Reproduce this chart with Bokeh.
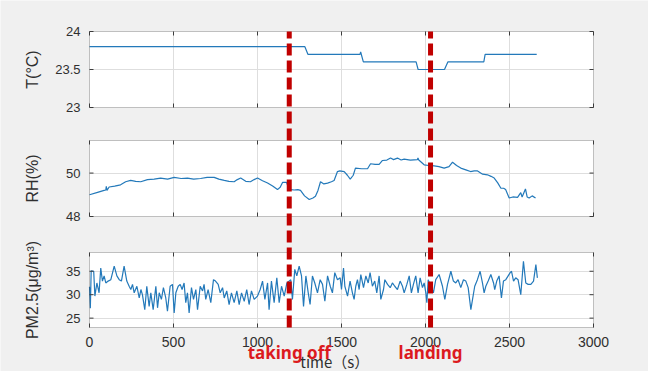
from math import pi
from bokeh.plotting import figure
from bokeh.models import Range1d, FixedTicker, Grid, BoxAnnotation
from bokeh.core.properties import value
from bokeh.embed import file_html
from bokeh.resources import INLINE

# ---------------- data ----------------
t_time = [0, 1282, 1300, 1610, 1614, 1630, 1944, 1956, 2113, 2133, 2347, 2355, 2662]
t_val = [23.8, 23.8, 23.7, 23.7, 23.73, 23.6, 23.6, 23.5, 23.5, 23.6, 23.6, 23.7, 23.7]

rh_time = [0, 48, 87, 97, 100, 104, 117, 150, 185, 215, 245, 275, 305, 345, 385, 423, 465, 504,
           545, 583, 620, 661, 700, 742, 770, 802, 830, 861, 880, 900, 930, 958, 980, 1000, 1030,
           1060, 1090, 1119, 1135, 1149, 1173, 1185, 1200, 1218, 1240, 1256, 1280, 1308, 1330,
           1345, 1360, 1375, 1395, 1417, 1440, 1456, 1476, 1490, 1516, 1535, 1552, 1570, 1583,
           1620, 1655, 1673, 1700, 1724, 1744, 1770, 1792, 1810, 1833, 1855, 1873, 1910, 1952,
           1955, 1960, 1992, 2020, 2052, 2080, 2111, 2140, 2161, 2185, 2210, 2240, 2268, 2290,
           2310, 2340, 2369, 2390, 2409, 2430, 2448, 2465, 2477, 2490, 2498, 2520, 2548, 2567,
           2575, 2595, 2605, 2617, 2635, 2655]
rh_val = [49.0, 49.11, 49.2, 49.22, 49.39, 49.2, 49.36, 49.4, 49.46, 49.6, 49.66, 49.62, 49.6,
          49.7, 49.72, 49.77, 49.72, 49.8, 49.75, 49.77, 49.72, 49.75, 49.8, 49.8, 49.72, 49.66,
          49.62, 49.6, 49.7, 49.77, 49.62, 49.6, 49.7, 49.77, 49.65, 49.54, 49.4, 49.24, 49.35,
          49.57, 49.57, 49.3, 49.24, 49.22, 49.24, 49.2, 48.95, 48.78, 48.85, 48.93, 49.2, 49.6,
          49.5, 49.54, 49.6, 49.66, 50.07, 50.1, 50.07, 49.9, 49.72, 49.9, 50.23, 50.2, 50.2,
          50.43, 50.4, 50.4, 50.58, 50.6, 50.69, 50.62, 50.69, 50.6, 50.64, 50.6, 50.62, 50.7,
          50.6, 50.38, 50.35, 50.33, 50.3, 50.23, 50.3, 50.5, 50.35, 50.23, 50.15, 50.07, 50.1,
          50.1, 49.95, 49.92, 49.85, 49.77, 49.55, 49.31, 49.3, 49.24, 49.0, 48.85, 48.9, 48.88,
          49.1, 48.9, 49.27, 48.9, 48.85, 48.95, 48.85]

pm_time = [0, 5, 10, 25, 32, 44, 57, 67, 77, 87, 97, 111, 127, 147, 163, 177, 190, 206, 222, 236,
           246, 256, 266, 282, 296, 306, 315, 329, 341, 355, 365, 379, 395, 405, 415, 428, 440,
           454, 464, 480, 494, 504, 514, 528, 540, 551, 563, 573, 583, 593, 607, 619, 633, 643,
           659, 673, 682, 692, 706, 722, 738, 750, 766, 778, 792, 802, 817, 831, 845, 861, 877,
           891, 905, 921, 936, 950, 964, 980, 1000, 1016, 1030, 1044, 1060, 1069, 1083, 1099,
           1115, 1129, 1143, 1159, 1175, 1188, 1198, 1208, 1222, 1234, 1248, 1262, 1274, 1288,
           1302, 1313, 1327, 1341, 1357, 1373, 1387, 1401, 1417, 1433, 1446, 1460, 1476, 1492,
           1500, 1512, 1520, 1536, 1551, 1565, 1575, 1585, 1595, 1605, 1615, 1631, 1645, 1659,
           1670, 1684, 1698, 1710, 1724, 1734, 1750, 1758, 1774, 1790, 1803, 1817, 1833, 1849,
           1863, 1873, 1889, 1903, 1916, 1928, 1942, 1956, 1968, 1982, 1992, 2002, 2008, 2016,
           2032, 2047, 2061, 2081, 2101, 2115, 2131, 2151, 2166, 2180, 2194, 2210, 2226, 2240,
           2254, 2270, 2280, 2293, 2309, 2325, 2339, 2349, 2359, 2373, 2389, 2405, 2412, 2424,
           2438, 2452, 2464, 2478, 2492, 2504, 2512, 2524, 2537, 2551, 2567, 2583, 2597, 2611,
           2627, 2643, 2657, 2666]
pm_val = [31.7, 27.1, 35.1, 35.0, 29.7, 32.5, 30.4, 35.7, 32.9, 34.0, 32.5, 32.9, 33.2, 36.1,
          34.0, 33.2, 32.9, 36.1, 32.9, 31.8, 31.1, 32.2, 30.4, 31.8, 29.3, 31.1, 30.0, 26.8,
          31.8, 27.5, 30.4, 26.8, 31.8, 27.2, 30.4, 29.0, 31.5, 29.3, 26.5, 31.8, 32.2, 26.1,
          30.4, 31.8, 32.2, 31.1, 32.5, 28.3, 30.4, 26.1, 31.5, 29.0, 31.1, 26.8, 31.8, 30.8,
          32.2, 29.0, 31.1, 28.3, 33.2, 32.9, 32.2, 30.4, 31.5, 29.3, 30.8, 27.9, 30.4, 28.3,
          30.8, 27.9, 30.4, 28.6, 31.1, 27.9, 30.8, 29.0, 29.7, 31.1, 32.9, 29.0, 32.5, 26.8,
          32.9, 28.3, 33.6, 28.3, 31.8, 29.7, 32.5, 32.9, 33.2, 29.0, 35.4, 34.0, 36.1, 34.0,
          27.5, 34.0, 30.4, 27.9, 34.0, 32.5, 30.4, 33.2, 32.2, 28.6, 34.0, 31.8, 30.4, 34.7,
          33.2, 33.6, 31.1, 35.7, 31.8, 29.7, 32.9, 30.4, 29.0, 31.8, 33.2, 31.1, 34.3, 31.5,
          34.0, 32.5, 34.7, 31.8, 32.9, 30.4, 34.0, 29.0, 31.1, 33.2, 32.2, 31.5, 32.5, 31.8,
          31.1, 32.9, 31.8, 30.4, 32.2, 34.0, 30.4, 32.2, 34.0, 30.4, 33.6, 31.5, 32.5, 30.4,
          28.3, 33.2, 31.8, 30.4, 33.2, 34.3, 31.8, 29.0, 32.2, 35.0, 32.9, 32.5, 33.2, 31.5,
          33.2, 32.9, 31.5, 26.8, 29.0, 31.8, 33.2, 35.0, 32.5, 30.4, 31.8, 32.9, 34.3, 32.5,
          31.1, 32.9, 34.0, 29.3, 32.9, 33.2, 34.0, 34.7, 35.0, 32.9, 33.6, 33.2, 30.0, 37.1,
          32.5, 32.2, 32.2, 32.9, 36.4, 33.6]

x_ticks = [0, 500, 1000, 1500, 2000, 2500, 3000]
t_ticks = [23, 23.5, 24]
rh_ticks = [48, 50]
pm_ticks = [25, 30, 35]

events = [1189, 2030]
event_labels = ["taking off", "landing"]
x_title = "time（s）"

# ---------------- styles / layout ----------------
BG = "#f0f0f0"
BLUE = "#2379ba"
AX = "#3c3c3c"
GRID = "#dedede"
TXT = "#2f2f2f"
RED_LINE = "#c00000"
RED_TXT = "#dc1a1e"
CW, CH = 648, 371          # canvas size
PL, PR = 89, 593           # plot-area left / right (canvas px)
X0, X1 = 0, 3000           # x limits of the panels
sx = (X1 - X0) / (PR - PL)

# panel: (name, top_px, bottom_px, lo, hi, ticks, label, x, y)
panels = [
    ("t", 31, 107, 23.0, 24.0, t_ticks, "T(°C)", t_time, t_val),
    ("rh", 140, 216, 48.0, 51.5, rh_ticks, "RH(%)", rh_time, rh_val),
    ("pm", 252, 327, 23.0, 39.0, pm_ticks, "PM2.5(μg/m³)", pm_time, pm_val),
]

p = figure(width=CW, height=CH,
           x_range=Range1d(X0 - PL * sx, X1 + (CW - PR) * sx), y_range=Range1d(0, CH),
           x_axis_type=None, y_axis_type=None, output_backend="svg", toolbar_location=None,
           min_border=0, background_fill_color=BG, border_fill_color=BG,
           outline_line_color=None)

FONT = value("Liberation Sans")

for name, top, bot, lo, hi, ticks, lab, xs, ys in panels:
    s = (hi - lo) / (bot - top)
    p.extra_y_ranges[name] = Range1d(start=lo - (CH - bot) * s, end=hi + top * s)
    # white panel
    p.add_layout(BoxAnnotation(left=X0, right=X1, bottom=lo, top=hi, y_range_name=name,
                               fill_color="white", fill_alpha=1, line_color=None, level="image"))
    # grid lines
    inner = [v for v in ticks if lo < v < hi]
    p.add_layout(Grid(dimension=1, ticker=FixedTicker(ticks=inner), y_range_name=name,
                      bounds=(lo, hi), cross_bounds=(X0, X1),
                      grid_line_color=GRID, grid_line_width=1))
    inner_x = [v for v in x_ticks if X0 < v < X1]
    p.add_layout(Grid(dimension=0, ticker=FixedTicker(ticks=inner_x), y_range_name=name,
                      cross_bounds=(lo, hi), grid_line_color=GRID, grid_line_width=1))
    # data
    p.line(xs, ys, y_range_name=name, line_color=BLUE, line_width=1.2)
    # inward ticks
    p.ray(x=[X0] * len(ticks), y=ticks, length=4, length_units="screen", angle=0,
          y_range_name=name, line_color=AX, line_width=1)
    p.ray(x=[X1] * len(ticks), y=ticks, length=4, length_units="screen", angle=pi,
          y_range_name=name, line_color=AX, line_width=1)
    p.ray(x=x_ticks, y=[lo] * len(x_ticks), length=4, length_units="screen", angle=pi / 2,
          y_range_name=name, line_color=AX, line_width=1)
    p.ray(x=x_ticks, y=[hi] * len(x_ticks), length=4, length_units="screen", angle=-pi / 2,
          y_range_name=name, line_color=AX, line_width=1)
    # panel border
    p.add_layout(BoxAnnotation(left=X0, right=X1, bottom=lo, top=hi, y_range_name=name,
                               fill_alpha=0, line_color=AX, line_width=1))
    # y tick labels
    p.text(x=[X0] * len(ticks), y=ticks, text=["%g" % v for v in ticks], x_offset=-9,
           y_range_name=name, text_align="right", text_baseline="middle", text_font=FONT,
           text_font_size="13px", text_color=TXT)
    # y title
    p.text(x=[X0], y=[(lo + hi) / 2], text=[lab], x_offset=-57, angle=pi / 2,
           y_range_name=name, text_align="center", text_baseline="middle", text_font=FONT,
           text_font_size="16px", text_color=TXT)

pm_lo, t_hi = panels[2][3], panels[0][4]
pm_s = (panels[2][4] - panels[2][3]) / (panels[2][2] - panels[2][1])
t_hi_in_pm = pm_lo + (panels[2][2] - panels[0][1]) * pm_s

# x tick labels
p.text(x=x_ticks, y=[pm_lo] * len(x_ticks), text=[str(v) for v in x_ticks], y_offset=9,
       y_range_name="pm", text_align="center", text_baseline="top", text_font=FONT,
       text_font_size="14px", text_color=TXT)

# event lines and labels
p.segment(x0=events, x1=events, y0=[pm_lo] * len(events), y1=[t_hi_in_pm] * len(events),
          y_range_name="pm", line_color=RED_LINE, line_width=5, line_dash="12 5",
          level="overlay")
p.text(x=events, y=[pm_lo] * len(events), text=event_labels, y_offset=25, y_range_name="pm",
       text_align="center", text_baseline="alphabetic", text_font=value("Noto Sans"),
       text_font_style=value("bold"), text_font_size="17px", text_color=RED_TXT)

# x title
p.text(x=[1460], y=[pm_lo], text=[x_title], y_offset=34, y_range_name="pm",
       text_align="center", text_baseline="alphabetic", text_font=value("Noto Sans CJK SC"),
       text_font_size="15px", text_color=TXT)

open("out.html", "w").write(file_html(p, INLINE))
